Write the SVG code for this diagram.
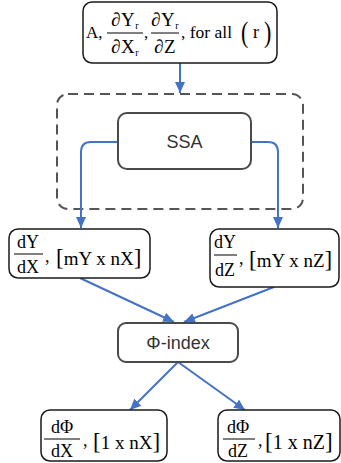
<svg xmlns="http://www.w3.org/2000/svg" width="341" height="463" viewBox="0 0 341 463">
  <style>
    .mbox { fill: #ffffff; stroke: #1a1a1a; stroke-width: 1.5; }
    .pbox { fill: #ffffff; stroke: #4a4a4a; stroke-width: 2; }
    .group { fill: none; stroke: #555555; stroke-width: 2; stroke-dasharray: 10 6; }
    .m { font-family: "Liberation Serif", "Times New Roman", serif; fill: #000000; }
    .s { font-family: "Liberation Sans", Arial, sans-serif; font-size: 18px; fill: #333333; }
    .bar { stroke: #000000; stroke-width: 1; }
    .link { fill: none; stroke: #4472c4; stroke-width: 2; }
    .br { font-size: 23px; }
  </style>
  <defs>
    <marker id="arrow" markerUnits="userSpaceOnUse" markerWidth="11" markerHeight="10" refX="11" refY="5" orient="auto">
      <path d="M0,0 L11,5 L0,10 z" fill="#4472c4"/>
    </marker>
  </defs>

  <!-- dashed grouping frame around SSA -->
  <rect id="ssa-frame" class="group" x="57" y="94" width="246" height="115" rx="11"/>

  <g id="connectors">
    <path class="link" d="M180,63 V93" marker-end="url(#arrow)"/>
    <path class="link" d="M118,142 H91 Q81,142 81,152 V228" marker-end="url(#arrow)"/>
    <path class="link" d="M251,142 H268 Q278,142 278,152 V228" marker-end="url(#arrow)"/>
    <path class="link" d="M80,278 L174,322" marker-end="url(#arrow)"/>
    <path class="link" d="M274,287 L184,322" marker-end="url(#arrow)"/>
    <path class="link" d="M178,362 L130,410" marker-end="url(#arrow)"/>
    <path class="link" d="M178,362 L245,410" marker-end="url(#arrow)"/>
  </g>

  <g id="inputs">
    <rect class="mbox" x="83" y="2" width="194" height="61" rx="9"/>
    <text class="m" x="86" y="38" font-size="17">A,</text>
    <text class="m" x="125" y="26" font-size="19" letter-spacing="0.5" text-anchor="middle">∂Y<tspan font-size="10" dy="3">r</tspan></text>
    <line class="bar" x1="107" y1="33" x2="143" y2="33"/>
    <text class="m" x="125" y="53" font-size="19" letter-spacing="0.5" text-anchor="middle">∂X<tspan font-size="10" dy="3">r</tspan></text>
    <text class="m" x="144" y="38" font-size="17">,</text>
    <text class="m" x="165" y="26" font-size="19" letter-spacing="0.5" text-anchor="middle">∂Y<tspan font-size="10" dy="3">r</tspan></text>
    <line class="bar" x1="151" y1="33" x2="179" y2="33"/>
    <text class="m" x="165" y="53" font-size="19" letter-spacing="0.5" text-anchor="middle">∂Z</text>
    <text class="m" x="181" y="38" font-size="17.5">, for all</text>
    <text class="m" font-size="22" transform="translate(241,42) scale(1,1.35)">(</text>
    <text class="m" x="253" y="38" font-size="18">r</text>
    <text class="m" font-size="22" transform="translate(264,42) scale(1,1.35)">)</text>
  </g>

  <g id="ssa">
    <rect class="pbox" x="118" y="113" width="133" height="56" rx="9"/>
    <text class="s" x="184.5" y="148" text-anchor="middle">SSA</text>
  </g>

  <g id="dydx">
    <rect class="mbox" x="9" y="229" width="141" height="49" rx="9"/>
    <text class="m" x="28" y="248" font-size="18" text-anchor="middle">dY</text>
    <line class="bar" x1="14" y1="254" x2="43" y2="254"/>
    <text class="m" x="28" y="273" font-size="18" text-anchor="middle">dX</text>
    <text class="m" x="45" y="262" font-size="18">,</text>
    <text class="m" x="56" y="265" font-size="19"><tspan class="br">[</tspan>mY x nX<tspan class="br">]</tspan></text>
  </g>

  <g id="dydz">
    <rect class="mbox" x="210" y="229" width="129" height="58" rx="9"/>
    <text class="m" x="225" y="248" font-size="18" text-anchor="middle">dY</text>
    <line class="bar" x1="214" y1="255" x2="237" y2="255"/>
    <text class="m" x="225" y="276" font-size="18" text-anchor="middle">dZ</text>
    <text class="m" x="239" y="264" font-size="18">,</text>
    <text class="m" x="249" y="267" font-size="19"><tspan class="br">[</tspan>mY x nZ<tspan class="br">]</tspan></text>
  </g>

  <g id="phi-index">
    <rect class="pbox" x="118" y="323" width="120" height="39" rx="8"/>
    <text class="s" x="178" y="349" text-anchor="middle">Φ-index</text>
  </g>

  <g id="dphidx">
    <rect class="mbox" x="41" y="410" width="126" height="51" rx="9"/>
    <text class="m" x="62" y="433" font-size="18" text-anchor="middle">dΦ</text>
    <line class="bar" x1="44" y1="439" x2="80" y2="439"/>
    <text class="m" x="62" y="457" font-size="18" text-anchor="middle">dX</text>
    <text class="m" x="83" y="446" font-size="18">,</text>
    <text class="m" x="93" y="449" font-size="19"><tspan class="br">[</tspan>1 x nX<tspan class="br">]</tspan></text>
  </g>

  <g id="dphidz">
    <rect class="mbox" x="218" y="410" width="122" height="51" rx="9"/>
    <text class="m" x="238" y="433" font-size="18" text-anchor="middle">dΦ</text>
    <line class="bar" x1="223" y1="439" x2="255" y2="439"/>
    <text class="m" x="238" y="457" font-size="18" text-anchor="middle">dZ</text>
    <text class="m" x="258" y="446" font-size="18">,</text>
    <text class="m" x="265" y="449" font-size="20"><tspan class="br">[</tspan>1 x nZ<tspan class="br">]</tspan></text>
  </g>
</svg>
